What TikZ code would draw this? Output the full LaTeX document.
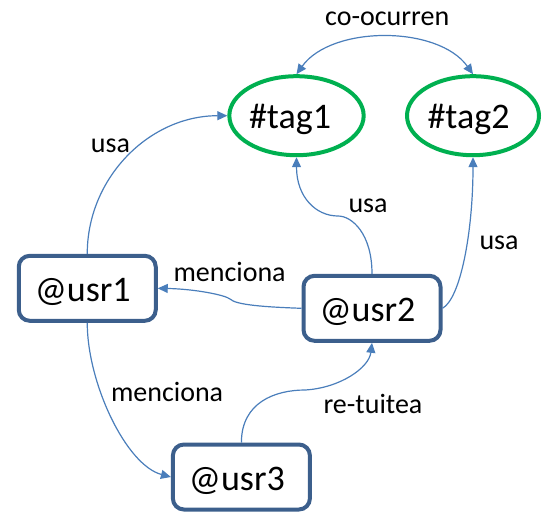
\documentclass[tikz,border=0pt]{standalone}
\usepackage{fontspec}
\setmainfont{Carlito}
\usetikzlibrary{arrows.meta,shapes.geometric}
\definecolor{boxblue}{RGB}{60,95,140}
\definecolor{linkblue}{RGB}{74,126,187}
\definecolor{taggreen}{RGB}{0,176,80}
\begin{document}
\begin{tikzpicture}[x=1pt,y=-1pt,
  userbox/.style={draw=boxblue,line width=4pt,rounded corners=11pt,
    minimum width=137pt,minimum height=65pt,inner sep=0pt,
    text height=26.8pt,text depth=0pt,font=\fontsize{36}{40}\selectfont},
  tagnode/.style={ellipse,draw=taggreen,line width=4pt,
    minimum width=132pt,minimum height=79pt,inner sep=0pt,
    text height=25.2pt,text depth=0pt,font=\fontsize{36}{40}\selectfont},
  link/.style={draw=linkblue,line width=1.2pt,-{Triangle[length=10pt,width=9pt]}},
  twolink/.style={draw=linkblue,line width=1.2pt,
    {Triangle[length=10pt,width=9pt]}-{Triangle[length=10pt,width=9pt]}},
  linklabel/.style={anchor=base west,inner sep=0pt,font=\fontsize{28}{32}\selectfont}]
\useasboundingbox (0,0) rectangle (543,512);

% hashtags
\node[tagnode] (tag1) at (296.5,115.7) {\#tag1\kern13pt};
\node[tagnode] (tag2) at (473,115.7) {\#tag2\kern9pt};

% users
\node[userbox] (usr1) at (87.25,288.3) {@usr1\kern9pt};
\node[userbox] (usr2) at (372,308.3) {@usr2\kern9pt};
\node[userbox] (usr3) at (241.4,477) {@usr3\kern9pt};

% relations
\draw[twolink] (tag1.north) .. controls +(35,-49) and +(-35,-49) .. (tag2.north);
\draw[link] (usr1.north) .. controls +(0,-76) and +(-78,0) .. (tag1.west);
\draw[link] (usr2.north) .. controls +(0,-40) and +(14,0) .. (338,216)
  .. controls +(-22,0) and +(0,40) .. (tag1.south);
\draw[link] (usr2.east) .. controls +(18,-10) and +(0,75) .. (tag2.south);
\draw[link] (usr2.west) .. controls (265,307) and (236,305) .. (230,299)
  .. controls (225,295) and (195,289) .. (usr1.east);
\draw[link] (usr1.south) .. controls +(0,60) and +(-45,-12) .. (usr3.west);
\draw[link] (usr3.north) .. controls +(0,-40) and +(-30,0) .. (305,390)
  .. controls +(35,-2) and +(-3,25) .. (usr2.south);

% labels
\node[linklabel] (lco) at (325,25) {co-ocurren};
\node[linklabel] (lusa1) at (90.7,152.3) {usa};
\node[linklabel] (lusa2) at (348.3,212.7) {usa};
\node[linklabel] (lusa3) at (479.3,249.3) {usa};
\node[linklabel] (lmen1) at (173.3,281.7) {menciona};
\node[linklabel] (lmen2) at (110.8,401) {menciona};
\node[linklabel] (lret) at (323.3,413.3) {re-tuitea};
\end{tikzpicture}
\end{document}
